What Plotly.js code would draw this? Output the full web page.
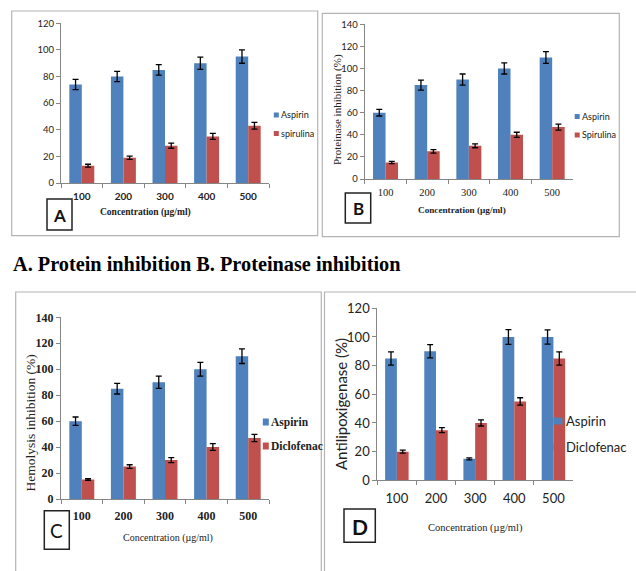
<!DOCTYPE html>
<html><head><meta charset="utf-8">
<script src="https://cdn.plot.ly/plotly-3.0.1.min.js"></script>
<style>html,body{margin:0;padding:0;background:#fff}#chart{width:636px;height:571px}</style>
</head><body><div id="chart"></div><script>
// ---------- data ----------
const categories = ['100', '200', '300', '400', '500'];

// Panel A – protein inhibition
const aNames = ['Aspirin', 'spirulina'];
const aAspirin = [74, 80, 85, 90, 95];
const aAspirinErr = [3.9, 3.9, 4, 4.6, 5];
const aSpirulina = [13, 19, 28, 35, 43];
const aSpirulinaErr = [1.1, 1.25, 1.9, 2.25, 2.5];

// Panel B – proteinase inhibition
const bNames = ['Aspirin', 'Spirulina'];
const bAspirin = [60, 85, 90, 100, 110];
const bAspirinErr = [3, 4.5, 5, 5, 5.3];
const bSpirulina = [15, 25, 30, 40, 47];
const bSpirulinaErr = [1, 1.5, 1.7, 2.3, 2.7];

// Panel C – hemolysis inhibition
const cNames = ['Aspirin', 'Diclofenac'];
const cAspirin = [60, 85, 90, 100, 110];
const cAspirinErr = [3.2, 4.1, 4.75, 5.3, 5.6];
const cDiclofenac = [15, 25, 30, 40, 47];
const cDiclofenacErr = [0.6, 1.4, 1.9, 2.6, 2.8];

// Panel D – antilipoxigenase
const dNames = ['Aspirin', 'Diclofenac'];
const dAspirin = [85, 90, 15, 100, 100];
const dAspirinErr = [4.65, 4.65, 0.7, 5.1, 5];
const dDiclofenac = [20, 35, 40, 55, 85];
const dDiclofenacErr = [1, 1.75, 2.1, 2.6, 4.65];

const yTitles = ['', 'Proteinase inhibition (%)', 'Hemolysis inhibition (%)', 'Antilipoxigenase (%)'];
const xTitle = 'Concentration (µg/ml)';
const caption = 'A. Protein inhibition B. Proteinase inhibition';
const panelLetters = ['A', 'B', 'C', 'D'];

// ---------- styling ----------
const W = 636, H = 571;
const px = v => v / W;
const py = v => 1 - v / H;
const BLUE = '#4F81BD', RED = '#C0504D', AXIS = '#868686';
const SANS = 'Lato, "Liberation Sans", sans-serif';
const SERIF = '"Liberation Serif", "Times New Roman", serif';

function barTrace(name, y, err, color, xa, ya) {
  return {
    type: 'bar', name: name, x: categories, y: y, showlegend: false,
    marker: {color: color},
    error_y: {type: 'data', array: err, visible: true, color: '#000', thickness: 1.3, width: 3},
    xaxis: xa, yaxis: ya, hoverinfo: 'skip'
  };
}

const data = [
  barTrace(aNames[0], aAspirin, aAspirinErr, BLUE, 'x', 'y'),
  barTrace(aNames[1], aSpirulina, aSpirulinaErr, RED, 'x', 'y'),
  barTrace(bNames[0], bAspirin, bAspirinErr, BLUE, 'x2', 'y2'),
  barTrace(bNames[1], bSpirulina, bSpirulinaErr, RED, 'x2', 'y2'),
  barTrace(cNames[0], cAspirin, cAspirinErr, BLUE, 'x3', 'y3'),
  barTrace(cNames[1], cDiclofenac, cDiclofenacErr, RED, 'x3', 'y3'),
  barTrace(dNames[0], dAspirin, dAspirinErr, BLUE, 'x4', 'y4'),
  barTrace(dNames[1], dDiclofenac, dDiclofenacErr, RED, 'x4', 'y4')
];

function xAxis(x0, x1, anchor, font, standoff) {
  return {
    domain: [px(x0), px(x1)], anchor: anchor, type: 'category', range: [-0.5, 4.5],
    tickson: 'boundaries', ticks: 'outside', ticklen: 4, tickcolor: AXIS, tickwidth: 1,
    showline: true, linecolor: AXIS, linewidth: 1, showgrid: false, zeroline: false,
    tickfont: font, ticklabelstandoff: standoff, fixedrange: true
  };
}
function yAxis(y0, y1, anchor, max, font) {
  return {
    domain: [py(y0), py(y1)], anchor: anchor, range: [0, max], dtick: 20, tick0: 0,
    ticks: 'outside', ticklen: 4, tickcolor: AXIS, tickwidth: 1,
    showline: true, linecolor: AXIS, linewidth: 1, showgrid: false, zeroline: false,
    tickfont: font, fixedrange: true
  };
}

function frame(x0, y0, x1, y1) {
  return {type: 'rect', xref: 'paper', yref: 'paper', x0: px(x0), x1: px(x1), y0: py(y1), y1: py(y0),
    line: {color: '#b4b4b4', width: 1.2}, fillcolor: 'rgba(0,0,0,0)', layer: 'below'};
}
function letterBox(x0, y0, x1, y1) {
  return {type: 'rect', xref: 'paper', yref: 'paper', x0: px(x0), x1: px(x1), y0: py(y1), y1: py(y0),
    line: {color: '#222', width: 1.5}, fillcolor: '#fff', layer: 'above'};
}
function swatch(cx, cy, w, h, color) {
  return {type: 'rect', xref: 'paper', yref: 'paper', x0: px(cx - w / 2), x1: px(cx + w / 2),
    y0: py(cy + h / 2), y1: py(cy - h / 2), line: {width: 0}, fillcolor: color, layer: 'above'};
}
function txt(text, x, y, font, opts) {
  return Object.assign({text: text, xref: 'paper', yref: 'paper', x: px(x), y: py(y),
    xanchor: 'center', yanchor: 'middle', showarrow: false, font: font}, opts || {});
}
// legend = two swatches + names (from the series name arrays)
function legendItems(names, colors, swX, textX, y0, y1, sw, sh, font) {
  const ys = [y0, y1];
  return {
    shapes: names.map((n, i) => swatch(swX, ys[i], sw, sh, colors[i])),
    annotations: names.map((n, i) => txt(n, textX, ys[i], font, {xanchor: 'left'}))
  };
}
const legs = [
  legendItems(aNames, [BLUE, RED], 276.3, 279, 115, 133.5, 5, 5, {family: SANS, size: 9, color: '#222'}),
  legendItems(bNames, [BLUE, RED], 577.2, 580, 116.5, 135, 5, 5, {family: SANS, size: 9, color: '#222'}),
  legendItems(cNames, [BLUE, RED], 265.8, 268.5, 422, 446, 6, 7, {family: SERIF, size: 11.5, color: '#222', weight: 'bold'}),
  legendItems(dNames, [BLUE, RED], 558, 563.5, 421, 447, 9, 7, {family: SANS, size: 13, color: '#222'})
];

const layout = {
  width: W, height: H, margin: {l: 0, r: 0, t: 0, b: 0},
  paper_bgcolor: '#fff', plot_bgcolor: 'rgba(0,0,0,0)',
  barmode: 'group', bargap: 0.4, bargroupgap: 0,
  hovermode: false, showlegend: false,
  xaxis: xAxis(61, 269, 'y', {family: SANS, size: 10, color: '#222', weight: 'bold'}, 4),
  yaxis: yAxis(183, 23.3, 'x', 120, {family: SANS, size: 9.5, color: '#222'}),
  xaxis2: xAxis(364.7, 573, 'y2', {family: SERIF, size: 10.5, color: '#222'}, 3),
  yaxis2: yAxis(179, 24.3, 'x2', 140, {family: SANS, size: 9.5, color: '#222'}),
  xaxis3: xAxis(61, 269, 'y3', {family: SERIF, size: 12, color: '#222', weight: 'bold'}, 6),
  yaxis3: yAxis(499, 317.3, 'x3', 140, {family: SERIF, size: 12, color: '#222', weight: 'bold'}),
  xaxis4: xAxis(377.3, 573, 'y4', {family: SANS, size: 13, color: '#222'}, 6),
  yaxis4: yAxis(480.3, 308.3, 'x4', 120, {family: SANS, size: 13, color: '#222'}),
  shapes: [
    frame(11.7, 11, 317.7, 235.7),
    frame(322.3, 13.3, 619.3, 236.7),
    frame(15.7, 292, 321.3, 580),
    frame(324.5, 292, 645, 580),
    letterBox(47, 199, 72, 230),
    letterBox(345.3, 193, 370.7, 223),
    letterBox(44.3, 510.7, 69.3, 549.3),
    letterBox(344, 509, 375.3, 542.3)
  ].concat(...legs.map(l => l.shapes)),
  annotations: [
    txt(xTitle, 145.5, 212.5, {family: SERIF, size: 9.5, color: '#222', weight: 'bold'}),
    txt(xTitle, 462, 210, {family: SERIF, size: 9.2, color: '#222', weight: 'bold'}),
    txt(xTitle, 168, 538, {family: SERIF, size: 10, color: '#222'}),
    txt(xTitle, 475, 528, {family: SERIF, size: 10.5, color: '#222'}),
    txt(yTitles[1], 338, 110, {family: SERIF, size: 11, color: '#222'}, {textangle: -90}),
    txt(yTitles[2], 30, 423.5, {family: SERIF, size: 13.5, color: '#222'}, {textangle: -90}),
    txt(yTitles[3], 341, 404, {family: SANS, size: 15, color: '#222'}, {textangle: -90}),
    txt(panelLetters[0], 59.5, 215, {family: SANS, size: 17, color: '#111', weight: 'bold'}),
    txt(panelLetters[1], 358, 208.5, {family: SANS, size: 17, color: '#111', weight: 'bold'}),
    txt(panelLetters[2], 56.8, 530, {family: SANS, size: 19, color: '#111'}),
    txt(panelLetters[3], 359.6, 526, {family: SANS, size: 21, color: '#111', weight: 'bold'}),
    txt(caption, 11, 264, {family: SERIF, size: 20.3, color: '#000', weight: 'bold'}, {xanchor: 'left'})
  ].concat(...legs.map(l => l.annotations))
};

Plotly.newPlot('chart', data, layout, {staticPlot: true, displayModeBar: false});
</script></body></html>
